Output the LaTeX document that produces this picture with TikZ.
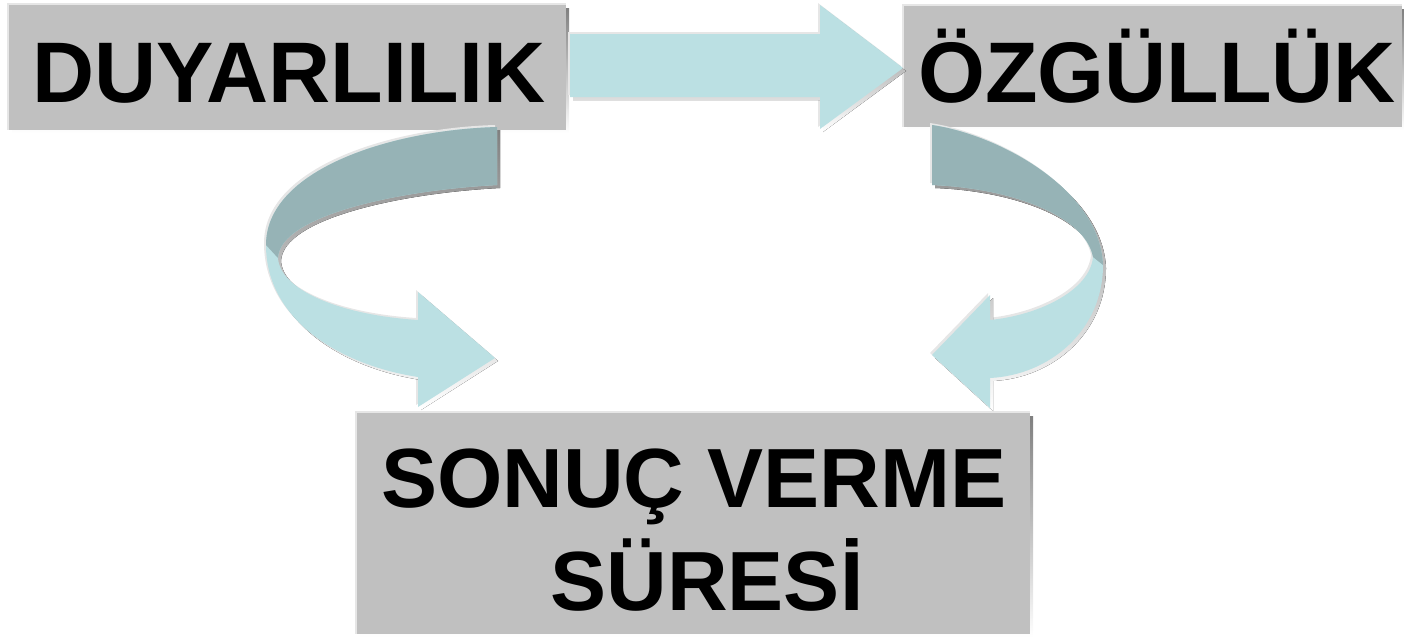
\documentclass[tikz,border=0pt]{standalone}
\usepackage{fontspec}
\setmainfont{Liberation Sans}
\definecolor{boxgray}{HTML}{C0C0C0}
\definecolor{hilite}{HTML}{E6E6E6}
\definecolor{shade}{HTML}{808080}
\definecolor{arrlight}{HTML}{BBE0E3}
\definecolor{arrdark}{HTML}{96B3B6}
\tikzset{
  boxlbl/.style={inner sep=0pt, anchor=base, font=\bfseries\fontsize{86}{96}\selectfont},
  boxlblb/.style={inner sep=0pt, anchor=base, font=\bfseries\fontsize{84}{94}\selectfont},
}
\newcommand{\bevelbox}[4]{%
  \fill[shade] (#1+3,#2+3) rectangle (#3+3,#4+3);
  \fill[hilite] (#1-2,#2-2) rectangle (#3,#4);
  \fill[boxgray] (#1,#2) rectangle (#3,#4);
}
\begin{document}
\begin{tikzpicture}[x=1pt,y=-1pt]
\useasboundingbox (0,0) rectangle (1404,640);
% boxes
\bevelbox{9}{5}{566}{130}
\bevelbox{904}{6}{1402}{127}
\bevelbox{357}{413}{1030}{634}
\coordinate (b1) at (289,102);
\coordinate (b2) at (1157,102);
\node[boxlbl] (duy) at (b1) {DUYARLILIK};
\node[boxlbl] (ozg) at (b2) {ÖZGÜLLÜK};
\node[boxlblb] (son1) at (694,507) {SONUÇ VERME};
\node[boxlblb] (son2) at (707,610) {SÜRESİ};
% straight arrow
\def\harrow{(570,34) -- (820,34) -- (820,5) -- (903,68) -- (820,129) -- (820,97) -- (570,97) -- cycle}
\fill[hilite, shift={(-2,-2)}] \harrow;
\fill[shade, shift={(3,3)}] \harrow;
\fill[arrlight] \harrow;
% left curved arrow
\def\lwhole{(497,127) .. controls (390,130) and (266,170) .. (266,245)
   .. controls (266,320) and (340,365) .. (418,377) -- (418,407) -- (495,358) -- (418,292) -- (418,320)
   .. controls (340,315) and (280,290) .. (278,258)
   .. controls (280,215) and (400,190) .. (497,185) -- cycle}
\def\ldark{(497,127) .. controls (390,130) and (266,170) .. (266,245) -- (278,258)
   .. controls (280,215) and (400,190) .. (497,185) -- cycle}
\fill[hilite, shift={(-2,-2)}] \lwhole;
\fill[shade, shift={(3,3)}] \lwhole;
\fill[arrlight] \lwhole;
\fill[arrdark] \ldark;
% right curved arrow
\def\rwhole{(932,125) .. controls (1000,135) and (1100,190) .. (1103,265)
   .. controls (1103,330) and (1050,375) .. (990,378) -- (990,408) -- (932,355) -- (990,295) -- (990,320)
   .. controls (1040,315) and (1090,290) .. (1093,257)
   .. controls (1085,215) and (1010,188) .. (932,185) -- cycle}
\def\rdark{(932,125) .. controls (1000,135) and (1100,190) .. (1103,265) -- (1093,257)
   .. controls (1085,215) and (1010,188) .. (932,185) -- cycle}
\fill[hilite, shift={(-2,-2)}] \rwhole;
\fill[shade, shift={(3,3)}] \rwhole;
\fill[arrlight] \rwhole;
\fill[arrdark] \rdark;
\end{tikzpicture}
\end{document}
